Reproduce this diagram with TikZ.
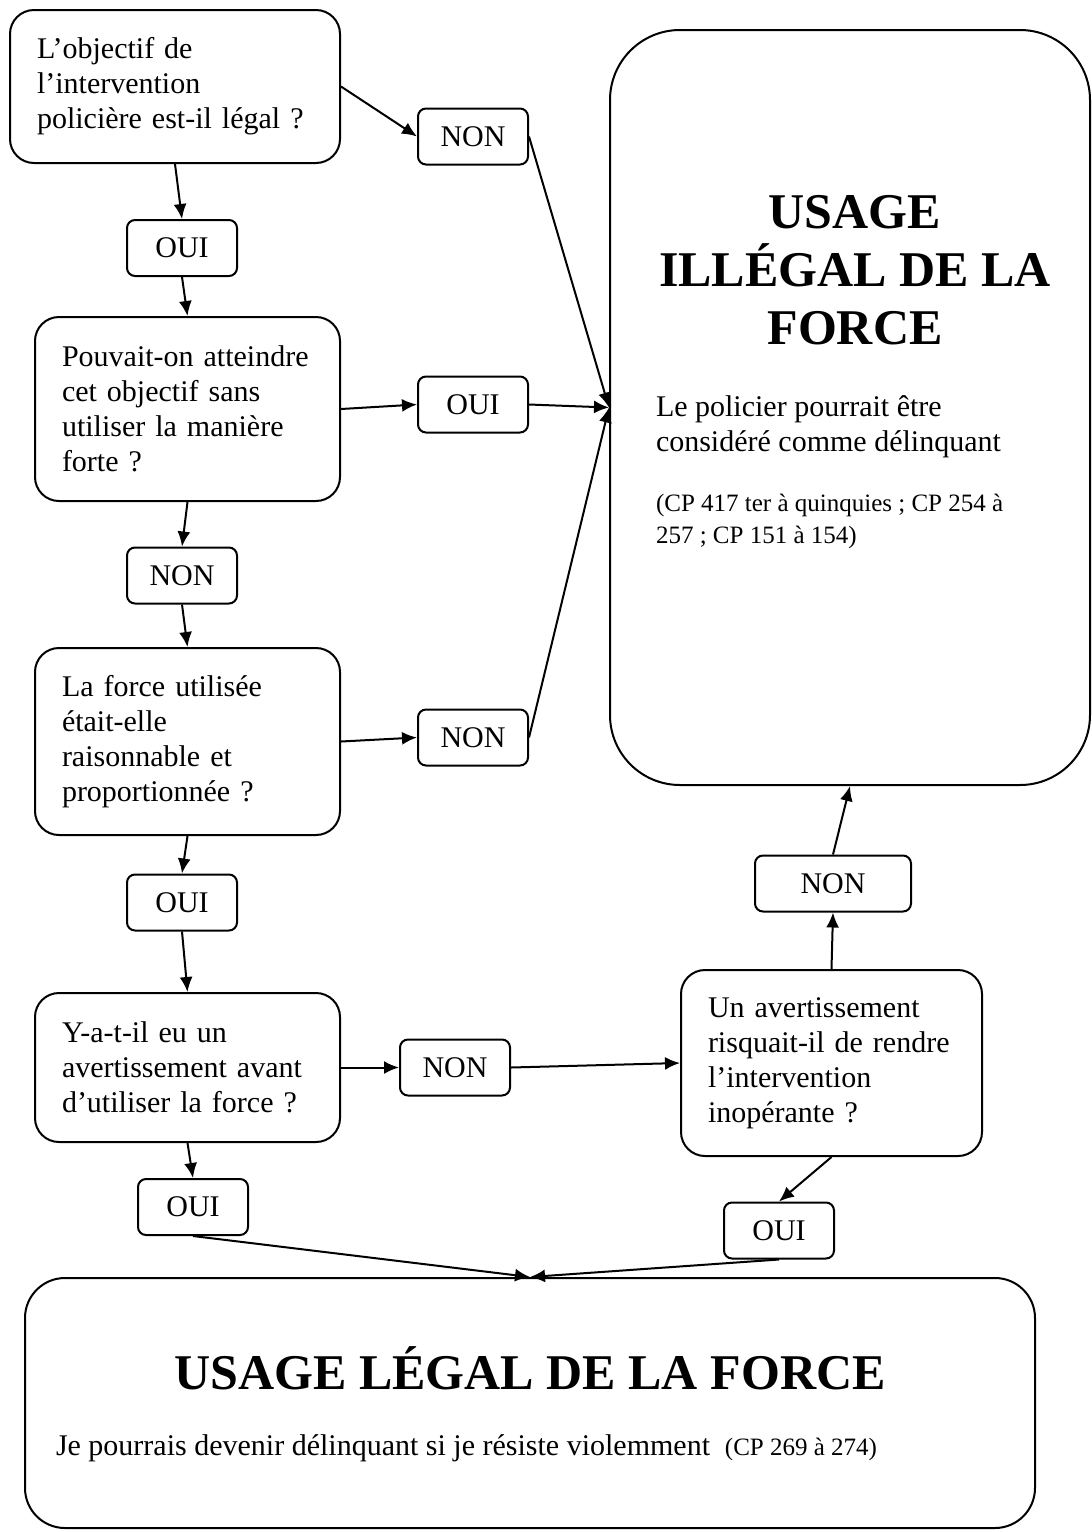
\documentclass[tikz,border=0pt]{standalone}
\usepackage{fontspec}
\setmainfont{Liberation Serif}
\usetikzlibrary{arrows.meta}

\begin{document}
\begin{tikzpicture}[x=0.5pt, y=-0.5pt, line width=1pt,
        >={Latex[length=7.5pt,width=6.5pt]}]
        \tikzset{
          question/.style={draw, rounded corners=12pt, align=left,
            font=\fontsize{15}{17.5}\selectfont, inner xsep=13.5pt, inner ysep=0pt},
          answer/.style={draw, rounded corners=4pt, align=center,
            font=\fontsize{15}{17.5}\selectfont, minimum width=55pt,
            minimum height=28pt, inner sep=0pt},
          verdict/.style={draw, inner sep=0pt},
          bigtitle/.style={font=\fontsize{25}{29}\selectfont\bfseries, align=center, inner sep=0pt},
          plain/.style={font=\fontsize{15}{17.5}\selectfont, align=left, inner sep=0pt},
          small/.style={font=\fontsize{12.5}{16}\selectfont, align=left, inner sep=0pt},
        }
        \useasboundingbox (0,0) rectangle (1092,1532);
        % questions
        \node [question, text width=138pt, minimum height=76.5pt] (objectif) at (175,86.5)
          {L’objectif de\\l’intervention\\policière est-il légal ?};
        \node [question, text width=125.5pt, minimum height=92pt] (sansforce) at (187.5,409)
          {Pouvait-on atteindre\\cet objectif sans\\utiliser la manière\\forte ?};
        \node [question, text width=125.5pt, minimum height=93.5pt] (raison) at (187.5,741.5)
          {La force utilisée\\était-elle\\raisonnable et\\proportionnée ?};
        \node [question, text width=125.5pt, minimum height=74.5pt] (avert) at (187.5,1067.5)
          {Y-a-t-il eu un\\avertissement avant\\d’utiliser la force ?};
        \node [question, text width=123.5pt, minimum height=93pt] (risque) at (831.5,1063)
          {Un avertissement\\risquait-il de rendre\\l’intervention\\inopérante ?};
        % answers
        \node [answer] (non1) at (473,136.5) {NON};
        \node [answer] (oui1) at (182,248) {OUI};
        \node [answer] (oui2) at (473,404.5) {OUI};
        \node [answer] (non2) at (182,575.5) {NON};
        \node [answer] (non3) at (473,737.5) {NON};
        \node [answer] (oui3) at (182,902.5) {OUI};
        \node [answer] (non4) at (455,1067.5) {NON};
        \node [answer, minimum width=78pt] (non5) at (833,883.5) {NON};
        \node [answer] (oui4) at (193,1207) {OUI};
        \node [answer] (oui5) at (779,1230.5) {OUI};
        % verdicts
        \node [verdict, rounded corners=35pt, minimum width=240pt, minimum height=377.5pt]
          (illegal) at (850,407.5) {};
        \node [bigtitle] (illtitle) at (855,270) {USAGE\\ILLÉGAL DE LA\\FORCE};
        \node [plain, anchor=west] (illtext) at (655,427)
          {Le policier pourrait être\\considéré comme délinquant};
        \node [small, anchor=west] (illref) at (655,521)
          {(CP 417 ter à quinquies ; CP 254 à\\257 ; CP 151 à 154)};
        \node [verdict, rounded corners=20pt, minimum width=505pt, minimum height=125pt]
          (legal) at (530,1403) {};
        \node [bigtitle] (legtitle) at (530,1368) {USAGE LÉGAL DE LA FORCE};
        \node [plain, anchor=west] (legtext) at (55,1448)
          {Je pourrais devenir délinquant si je résiste violemment\enspace
           {\fontsize{12.5}{16}\selectfont(CP 269 à 274)}};
        % 
        \draw [->] (objectif.east) -- (non1.west);
        \draw [->] (objectif.south) -- (oui1.north);
        \draw [->] (oui1.south) -- (sansforce.north);
        \draw [->] (sansforce.east) -- (oui2.west);
        \draw [->] (sansforce.south) -- (non2.north);
        \draw [->] (non2.south) -- (raison.north);
        \draw [->] (raison.east) -- (non3.west);
        \draw [->] (raison.south) -- (oui3.north);
        \draw [->] (oui3.south) -- (avert.north);
        \draw [->] (avert.east) -- (non4.west);
        \draw [->] (non4.east) -- (risque.west);
        \draw [->] (avert.south) -- (oui4.north);
        \draw [->] (risque.north) -- (non5.south);
        \draw [->] (risque.south) -- (oui5.north);
        % 
        \draw [->] (non1.east) -- (illegal.west);
        \draw [->] (oui2.east) -- (illegal.west);
        \draw [->] (non3.east) -- (illegal.west);
        \draw [->] (non5.north) -- (illegal.south);
        \draw [->] (oui4.south) -- (legal.north);
        \draw [->] (oui5.south) -- (legal.north);
    \end{tikzpicture}
\end{document}
